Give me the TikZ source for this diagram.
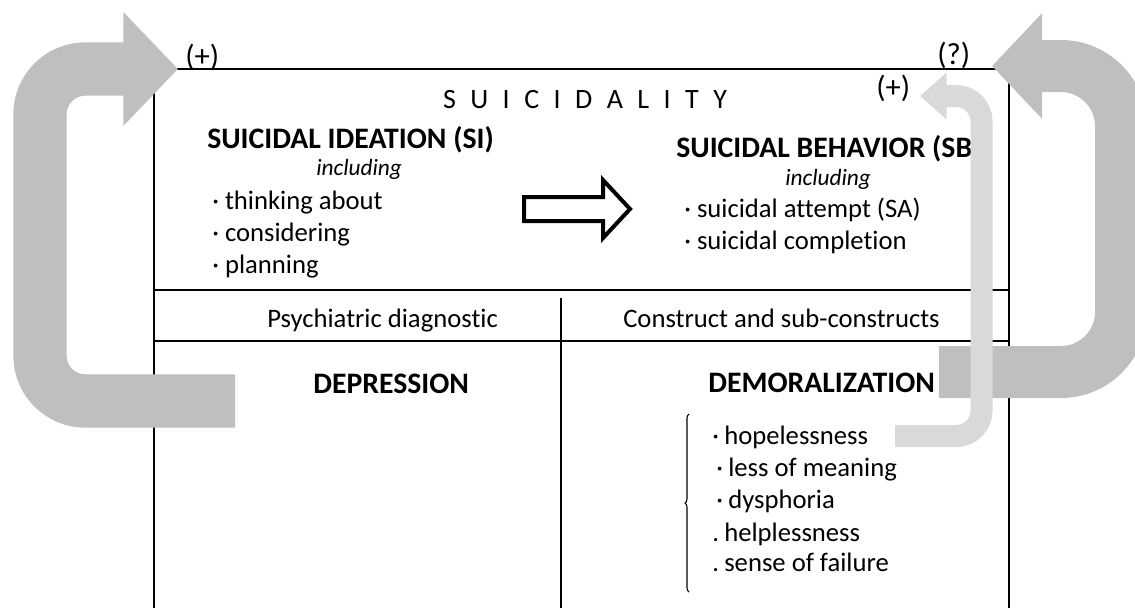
\documentclass[tikz,border=0pt]{standalone}
\usepackage{fontspec}
\setmainfont{Carlito}[Ligatures=NoCommon]
\usepackage{tikz}
\usetikzlibrary{arrows.meta, decorations.pathreplacing}
\definecolor{Silver}{HTML}{BFBFBF}
\definecolor{Mist}  {HTML}{D9D9D9}
\tikzset{
  tabline/.style={line width=0.9pt},
  txt/.style={inner sep=0pt, anchor=base west, font=\fontsize{20}{24}\selectfont},
  hd/.style={txt, font=\fontsize{22.3}{26}\selectfont\bfseries},
  incl/.style={txt, font=\fontsize{17.5}{21}\selectfont\itshape},
  sign/.style={txt, font=\fontsize{23}{27}\selectfont},
  fb/.style={draw=Silver, line width=40pt, rounded corners=34pt,
             -{Triangle[length=41pt,width=83pt]}}
}

\begin{document}
\begin{tikzpicture}[x=0.75pt, y=-0.75pt]
  \useasboundingbox (0,0) rectangle (1135,608);
  % table frame
  \draw[tabline] (154,69) -- (1009,69);
  \draw[tabline] (154,69) -- (154,608);
  \draw[tabline] (1009,69) -- (1009,608);
  \draw[tabline] (154,290) -- (1009,290);
  \draw[tabline] (154,341) -- (1009,341);
  \draw[tabline] (561,298) -- (561,608);

  % top row
  \node[txt, anchor=base, font=\fontsize{21}{25}\selectfont] (T) at (585,108)
    {\makebox[213pt][s]{S U I C I D A L I T Y}};
  \node[hd]   (SI)   at (207,148) {SUICIDAL IDEATION (SI)};
  \node[incl] (SIin) at (316,175) {including};
  \node[txt]  (SI1)  at (212,209) {· thinking about};
  \node[txt]  (SI2)  at (212,241) {· considering};
  \node[txt]  (SI3)  at (212,273) {· planning};
  \node[hd]   (SB)   at (676,157) {SUICIDAL BEHAVIOR (SB};
  \node[incl] (SBin) at (785,185) {including};
  \node[txt]  (SB1)  at (684,217) {· suicidal attempt (SA)};
  \node[txt]  (SB2)  at (684,249) {· suicidal completion};
  % SI leads to SB
  \draw[line width=3pt, miter limit=10]
    (524,197) -- (603,197) -- (603,180) -- (630,209) -- (603,238)
    -- (603,221) -- (524,221) -- cycle;

  % column heads
  \node[txt] (PD) at (267,327) {Psychiatric diagnostic};
  \node[txt] (CS) at (623,327) {Construct and sub-constructs};
  \node[hd] (DEP) at (313,393) {DEPRESSION};
  \node[hd] (DEM) at (708,392) {DEMORALIZATION};

  % sub-constructs
  \draw[line width=0.8pt, decorate, decoration={brace, amplitude=3pt}]
    (689,592) -- (689,414);
  \foreach \dx/\ln/\w [count=\i] in {712/444/{·\hspace{0.2em}hopelessness},
      716/476/{·\hspace{0.2em}less of meaning}, 716/508/{·\hspace{0.2em}dysphoria},
      712/541/{.\hspace{0.2em}helplessness}, 712/571/{.\hspace{0.2em}sense of failure}}
    \node[txt] (DM\i) at (\dx,\ln) {\w};

  % feedback signs
  \node[sign] (PL) at (185,66) {(+)};
  \node[sign] (Q)  at (937,64) {(?)};
  \node[sign] (PR) at (876,97) {(+)};

  % feedback loops
  \coordinate (L0) at (235,401);
  \coordinate (L1) at (178,69);
  \coordinate (R0) at (939,372);
  \coordinate (R1) at (992,66);
  \coordinate (M0) at (895,436);
  \coordinate (M1) at (920,96);
  \draw[fb] (L0) -- (40,401) -- (40,69) -- (L1);
  \draw[fb, line width=39pt, rounded corners=45pt,
        -{Triangle[length=37.5pt,width=77pt]}]
    (R0) -- (1121,372) -- (1121,66) -- (R1);
  \draw[fb, draw=Mist, line width=16.5pt, rounded corners=19pt,
        -{Triangle[length=20pt,width=34pt]}]
    (M0) -- (981.5,436) -- (981.5,96) -- (M1);
\end{tikzpicture}
\end{document}
